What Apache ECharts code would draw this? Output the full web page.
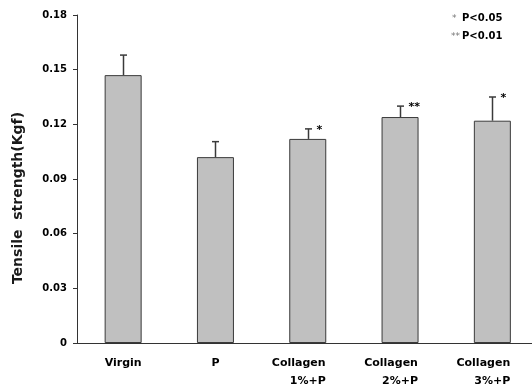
<!DOCTYPE html>
<html>
<head>
<meta charset="utf-8">
<script src="https://cdn.jsdelivr.net/npm/echarts@6/dist/echarts.min.js"></script>
<style>html,body{margin:0;padding:0;background:#fff;}#c{width:532px;height:385px;}</style>
</head>
<body>
<div id="c"></div>
<script>
const categories = ['Virgin', 'P', 'Collagen|1%+P', 'Collagen|2%+P', 'Collagen|3%+P'];
const means = [0.147, 0.102, 0.112, 0.124, 0.122];
const errors = [0.011, 0.0085, 0.0055, 0.006, 0.013];
const marks = ['', '', '*', '**', '*'];
const yTicks = [0, 0.03, 0.06, 0.09, 0.12, 0.15, 0.18];
const yTitle = 'Tensile  strength(Kgf)';
const legendLines = ['P<0.05', 'P<0.01'];
const legendStars = ['*', '**'];

const chart = echarts.init(document.getElementById('c'));
const FONT = 'DejaVu Sans, sans-serif';
const lab = { fontFamily: FONT, fontWeight: 'bold', fontSize: 11, color: '#000', lineHeight: 18 };
chart.setOption({
  animation: false,
  backgroundColor: '#fff',
  grid: { left: 77, top: 15, bottom: 42, width: 461.5, containLabel: false, outerBoundsMode: 'none' },
  xAxis: {
    type: 'category',
    data: categories,
    boundaryGap: true,
    axisLine: { lineStyle: { color: '#333', width: 1 } },
    axisTick: { inside: true, length: 4, lineStyle: { color: '#333' } },
    axisLabel: {
      margin: 11, interval: 0, color: '#000',
      formatter: function (v) {
        const p = v.split('|');
        if (p.length === 1) return '{a|' + p[0] + '}';
        return '{c|' + p[0] + '}\n{b|' + p[1] + '}';
      },
      rich: {
        a: lab,
        c: Object.assign({}, lab, { padding: [0, 18, 0, 0] }),
        b: lab
      }
    }
  },
  yAxis: {
    type: 'value',
    min: yTicks[0], max: yTicks[yTicks.length - 1], interval: 0.03,
    axisLine: { show: true, lineStyle: { color: '#333', width: 1 } },
    axisTick: { show: true, inside: false, length: 4, lineStyle: { color: '#333' } },
    splitLine: { show: false },
    axisLabel: {
      margin: 10, color: '#000', fontFamily: FONT, fontWeight: 'bold', fontSize: 10,
      formatter: function (v) { return v === 0 ? '0' : v.toFixed(2); }
    }
  },
  series: [
    {
      type: 'bar',
      data: means,
      barWidth: 37,
      itemStyle: { color: '#c0c0c0', borderColor: '#3a3a3a', borderWidth: 1 }
    },
    {
      type: 'custom',
      data: means.map((m, i) => [i, m, errors[i]]),
      z: 5,
      renderItem: function (params, api) {
        const i = api.value(0);
        const m = api.value(1);
        const e = api.value(2);
        const mk = marks[params.dataIndex];
        const base = api.coord([i, m]);
        const top = api.coord([i, m + e]);
        const x = Math.round(base[0]) + 0.5;
        const children = [
          { type: 'line', shape: { x1: x, y1: base[1], x2: x, y2: top[1] }, style: { stroke: '#3a3a3a', lineWidth: 1.5 } },
          { type: 'line', shape: { x1: x - 3.5, y1: top[1], x2: x + 3.5, y2: top[1] }, style: { stroke: '#3a3a3a', lineWidth: 1.5 } }
        ];
        if (mk) {
          children.push({
            type: 'text',
            style: { text: mk, x: x + 8, y: top[1] - 4, align: 'left', verticalAlign: 'top', fontFamily: FONT, fontWeight: 'bold', fontSize: 11, fill: '#000' }
          });
        }
        return { type: 'group', children: children };
      }
    }
  ],
  graphic: [
    { type: 'text', x: 18, y: 198, rotation: Math.PI / 2, style: { text: yTitle, align: 'center', verticalAlign: 'middle', fontFamily: FONT, fontWeight: 'bold', fontSize: 14, fill: '#1a1a1a' } },
    { type: 'text', left: 452, top: 14, style: { text: legendStars[0], fontFamily: FONT, fontSize: 9, fill: '#777' } },
    { type: 'text', left: 462, top: 13, style: { text: legendLines[0], fontFamily: FONT, fontWeight: 'bold', fontSize: 10, fill: '#000' } },
    { type: 'text', left: 451, top: 32, style: { text: legendStars[1], fontFamily: FONT, fontSize: 9, fill: '#777' } },
    { type: 'text', left: 462, top: 31, style: { text: legendLines[1], fontFamily: FONT, fontWeight: 'bold', fontSize: 10, fill: '#000' } }
  ]
});
</script>
</body>
</html>
